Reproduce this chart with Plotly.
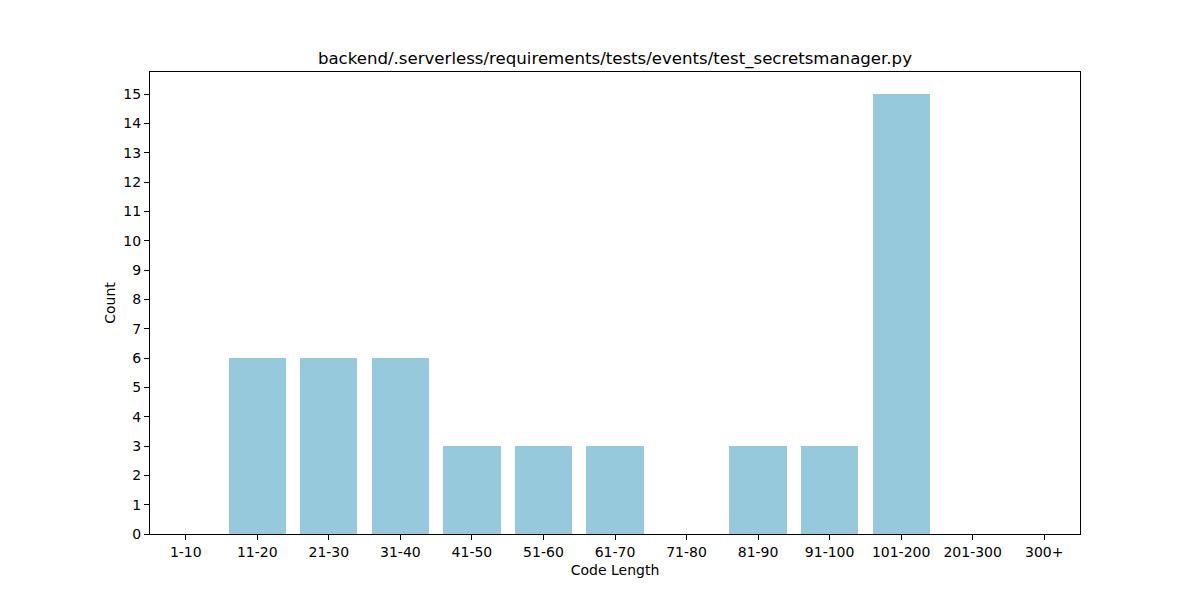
import plotly.graph_objects as go

categories = ["1-10", "11-20", "21-30", "31-40", "41-50", "51-60", "61-70",
              "71-80", "81-90", "91-100", "101-200", "201-300", "300+"]
counts = [0, 6, 6, 6, 3, 3, 3, 0, 3, 3, 15, 0, 0]
title = "backend/.serverless/requirements/tests/events/test_secretsmanager.py"

fig = go.Figure(go.Bar(x=list(range(len(categories))), y=counts, width=0.8,
                       marker=dict(color="#96c9dc", line=dict(width=0))))

font = "DejaVu Sans, sans-serif"
fig.update_layout(
    width=1200, height=600,
    margin=dict(l=142, r=128, t=64, b=74),
    paper_bgcolor="white", plot_bgcolor="white",
    font=dict(family=font, size=14, color="black"),
    title=dict(text=title, x=0.5058, xanchor="center", y=1 - 50 / 600, yanchor="middle",
               font=dict(size=16.6, family=font)),
    showlegend=False,
    bargap=0,
)
fig.update_xaxes(
    range=[-0.5, 12.5], tickmode="array", tickvals=list(range(len(categories))),
    ticktext=categories, ticks="outside", ticklen=5, tickcolor="black",
    showline=True, linecolor="black", linewidth=1, mirror=True, showgrid=False,
    zeroline=False, title=dict(text="Code Length", font=dict(size=14), standoff=6),
    tickfont=dict(size=14),
)
fig.update_yaxes(
    range=[0, 15.75], tickmode="array", tickvals=list(range(16)),
    ticks="outside", ticklen=5, tickcolor="black",
    showline=True, linecolor="black", linewidth=1, mirror=True, showgrid=False,
    zeroline=False, title=dict(text="Count", font=dict(size=14), standoff=4),
    tickfont=dict(size=14),
)
fig.write_html("out.html")
